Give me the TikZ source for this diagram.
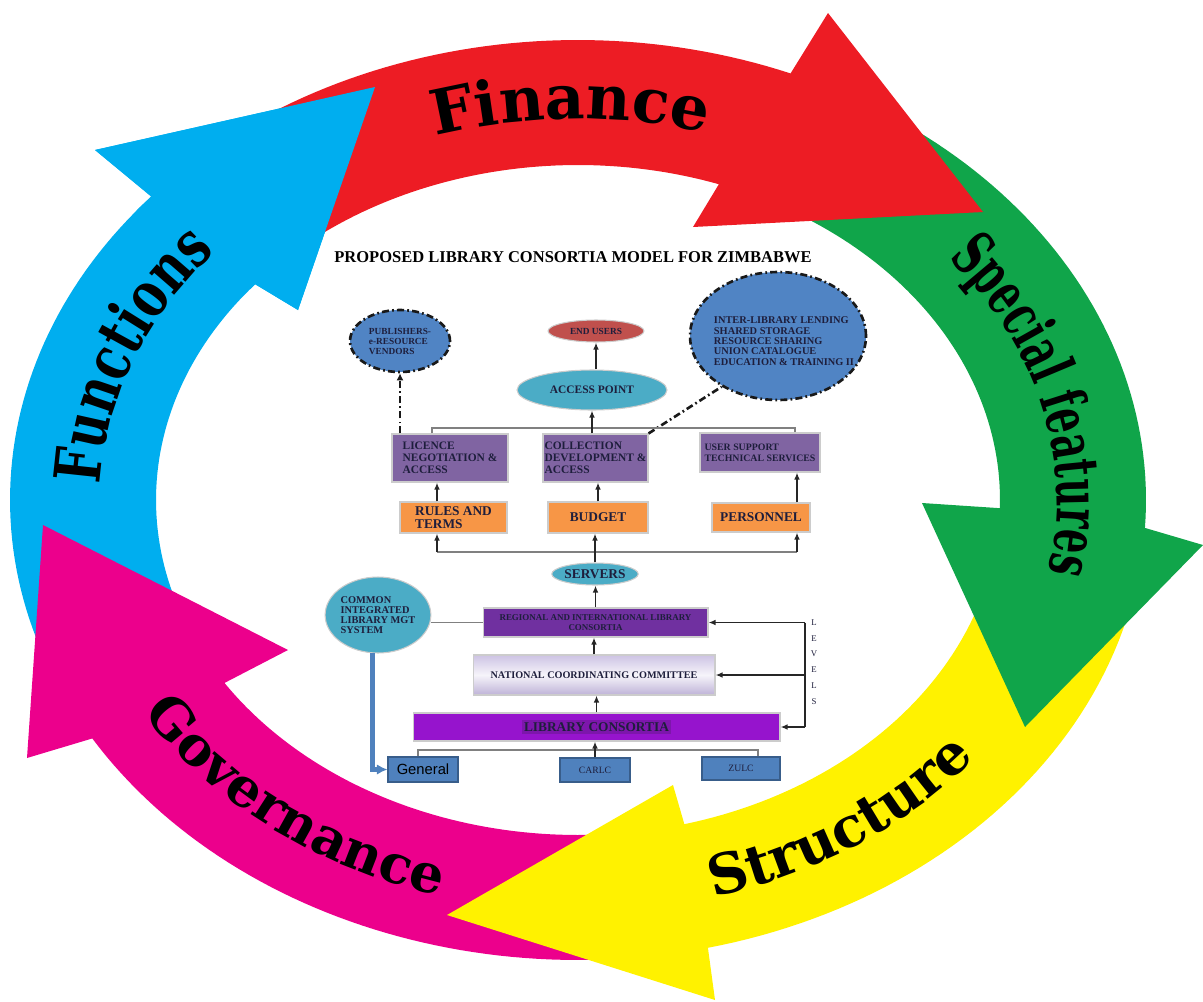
\documentclass[tikz,border=0pt]{standalone}
\usepackage{fontspec}
\setmainfont{Liberation Serif}
\newfontfamily\sansA{Liberation Sans}
\newfontfamily\waN{DejaVu Serif}
\newfontfamily\waC{DejaVu Serif}[FakeStretch=0.75]
\newfontfamily\waS{DejaVu Serif}[FakeStretch=0.62]
\usetikzlibrary{shapes.geometric,decorations.text,arrows.meta}
\definecolor{ringRed}{RGB}{237,28,36}
\definecolor{ringGreen}{RGB}{16,165,74}
\definecolor{ringYellow}{RGB}{255,242,0}
\definecolor{ringMag}{RGB}{236,0,140}
\definecolor{ringBlue}{RGB}{0,174,239}
\definecolor{boxPurple}{RGB}{128,100,162}
\definecolor{boxOrange}{RGB}{247,150,70}
\definecolor{tealE}{RGB}{75,172,198}
\definecolor{circBlue}{RGB}{80,132,196}
\definecolor{euRed}{RGB}{192,80,77}
\definecolor{regPurple}{RGB}{112,48,160}
\definecolor{lcViolet}{RGB}{150,20,205}
\definecolor{lcDark}{RGB}{125,22,172}
\definecolor{txtDark}{RGB}{30,30,60}
\definecolor{genBlue}{RGB}{79,129,189}
\definecolor{genDraw}{RGB}{56,93,138}
\definecolor{lineBlue}{RGB}{79,129,189}
\definecolor{nccTop}{RGB}{205,195,228}
\definecolor{nccMid}{RGB}{246,244,250}
\definecolor{nccBot}{RGB}{190,178,215}
\begin{document}
\begin{tikzpicture}[x=0.02cm,y=-0.02cm,
  conn/.style={draw=black!50,line width=0.7pt},
  arr/.style={draw=black!85,line width=0.8pt,-{Latex[length=4pt,width=3.2pt]}},
  ddash/.style={draw=black!90,line width=1.5pt,dash pattern=on 4pt off 1.8pt on 1pt off 1.8pt},
  ebase/.style={ellipse,inner sep=0pt,text=txtDark,draw=black!20,line width=0.6pt},
  bbase/.style={rectangle,inner sep=0pt,text=txtDark,draw=black!20,line width=0.6pt}]
\useasboundingbox (0,0) rectangle (1203,1001);

% ---------------- ring of arrows ----------------
\fill[ringBlue] plot[domain=0:1,samples=50] ({578+568*cos(200-61.3*\x)},{500-460*sin(200-61.3*\x)})
  -- (95,150) -- (375,87) -- (298,310)
  -- plot[domain=0:1,samples=50] ({578+422*cos(139.9+60.1*\x)},{500-335*sin(139.9+60.1*\x)}) -- cycle;
\fill[ringMag] plot[domain=0:1,samples=50] ({578+568*cos(275-63.8*\x)},{500-460*sin(275-63.8*\x)})
  -- (27,758) -- (43,525) -- (288,650)
  -- plot[domain=0:1,samples=50] ({578+422*cos(213.1+61.9*\x)},{500-335*sin(213.1+61.9*\x)}) -- cycle;
\fill[ringYellow] plot[domain=0:1,samples=50] ({578+568*cos(-8-68.8*\x)},{500-460*sin(-8-68.8*\x)})
  -- (715,1000) -- (447,915) -- (673,785)
  -- plot[domain=0:1,samples=50] ({578+422*cos(-75.4+67.4*\x)},{500-335*sin(-75.4+67.4*\x)}) -- cycle;
\fill[ringGreen] plot[domain=0:1,samples=50] ({578+568*cos(60-63.5*\x)},{500-460*sin(60-63.5*\x)})
  -- (1203,545) -- (1025,727) -- (922,503)
  -- plot[domain=0:1,samples=50] ({578+422*cos(-1.4+61.4*\x)},{500-335*sin(-1.4+61.4*\x)}) -- cycle;
\fill[ringRed] plot[domain=0:1,samples=50] ({578+568*cos(132-64*\x)},{500-460*sin(132-64*\x)})
  -- (828,13) -- (983,212) -- (693,227)
  -- plot[domain=0:1,samples=50] ({578+422*cos(70.5+61.5*\x)},{500-335*sin(70.5+61.5*\x)}) -- cycle;
% blue head again, over the tail of the red arrow
\fill[ringBlue] ({578+568*cos(141)},{500-460*sin(141)}) -- ({578+568*cos(138.7)},{500-460*sin(138.7)})
  -- (95,150) -- (375,87) -- (298,310)
  -- ({578+422*cos(139.9)},{500-335*sin(139.9)}) -- ({578+422*cos(141)},{500-335*sin(141)}) -- cycle;

% ring labels (arcs given in canvas units)
\path[decorate,decoration={text along path,text align=center,
  text={|\waN\bfseries\fontsize{35}{35}\selectfont|Finance}}]
  ({578+479*cos(131)},{500-381*sin(131)}) arc[start angle=131,end angle=51,x radius=9.58cm,y radius=7.62cm];
\path[decorate,decoration={text along path,text align=center,
  text={|\waS\bfseries\fontsize{35}{35}\selectfont|Special features}}]
  ({578+479*cos(58.2)},{500-381*sin(58.2)}) arc[start angle=58.2,end angle=-31.8,x radius=9.58cm,y radius=7.62cm];
\path[decorate,decoration={text along path,text align=center,
  text={|\waN\bfseries\fontsize{31.7}{32}\selectfont|Structure}}]
  ({578+510*cos(-95)},{500-412*sin(-95)}) arc[start angle=-95,end angle=-15,x radius=10.2cm,y radius=8.24cm];
\path[decorate,decoration={text along path,text align=center,
  text={|\waN\bfseries\fontsize{30.6}{31}\selectfont|Governance}}]
  ({578+509*cos(185.6)},{500-411*sin(185.6)}) arc[start angle=185.6,end angle=275.6,x radius=10.18cm,y radius=8.22cm];
\path[decorate,decoration={text along path,text align=center,
  text={|\waC\bfseries\fontsize{36.3}{36}\selectfont|Functions}}]
  ({578+478*cos(205.3)},{500-380*sin(205.3)}) arc[start angle=205.3,end angle=115.3,x radius=9.56cm,y radius=7.6cm];

% ---------------- central model ----------------
\node[font=\bfseries\fontsize{9.4}{9.4}\selectfont] (title) at (573,257) {PROPOSED LIBRARY CONSORTIA MODEL FOR ZIMBABWE};

\node[ebase,fill=circBlue,ddash,minimum width=2cm,minimum height=1.24cm,align=left,
  font=\bfseries\fontsize{5.3}{5.7}\selectfont] (pub) at (400,341) {PUBLISHERS-\\e-RESOURCE\\VENDORS};
\node[ebase,fill=euRed,minimum width=1.92cm,minimum height=0.44cm,
  font=\bfseries\fontsize{5.3}{5.3}\selectfont] (eu) at (596,331) {END USERS};
\node[ebase,fill=circBlue,ddash,minimum width=3.52cm,minimum height=2.56cm] (bigc) at (778,336) {};
\node[align=left,inner sep=0pt,text=txtDark,font=\bfseries\fontsize{5.9}{5.9}\selectfont] (bigcT) at (784,341)
  {INTER-LIBRARY LENDING\\SHARED STORAGE\\RESOURCE SHARING\\UNION CATALOGUE\\EDUCATION \& TRAINING II};
\node[ebase,fill=tealE,minimum width=3cm,minimum height=0.8cm,
  font=\bfseries\fontsize{6.5}{6.5}\selectfont] (ap) at (592,390) {ACCESS POINT};

\node[bbase,fill=boxPurple,minimum width=2.32cm,minimum height=0.96cm,align=left,
  font=\bfseries\fontsize{6.5}{6.9}\selectfont] (lic) at (450,458) {LICENCE\\NEGOTIATION \&\\ACCESS};
\node[bbase,fill=boxPurple,minimum width=2.1cm,minimum height=0.96cm,align=left,
  font=\bfseries\fontsize{6.5}{6.9}\selectfont] (coll) at (595.5,458) {COLLECTION\\DEVELOPMENT \&\\ACCESS};
\node[bbase,fill=boxPurple,minimum width=2.4cm,minimum height=0.78cm,align=left,
  font=\bfseries\fontsize{5.6}{6.3}\selectfont] (us) at (760,452.5) {USER SUPPORT\\TECHNICAL SERVICES};

\node[bbase,fill=boxOrange,minimum width=2.14cm,minimum height=0.62cm,align=left,
  font=\bfseries\fontsize{7.6}{7.5}\selectfont] (rules) at (453.5,517.5) {RULES AND\\TERMS};
\node[bbase,fill=boxOrange,minimum width=2cm,minimum height=0.62cm,
  font=\bfseries\fontsize{7.6}{7.6}\selectfont] (bud) at (598,517.5) {BUDGET};
\node[bbase,fill=boxOrange,minimum width=1.96cm,minimum height=0.58cm,
  font=\bfseries\fontsize{7.6}{7.6}\selectfont] (pers) at (761,517.5) {PERSONNEL};

\node[ebase,fill=tealE,minimum width=1.72cm,minimum height=0.44cm,
  font=\bfseries\fontsize{7.6}{7.6}\selectfont] (srv) at (595,574) {SERVERS};
\node[ebase,fill=tealE,minimum width=2cm,minimum height=1.52cm,align=left,
  font=\bfseries\fontsize{5.9}{5.7}\selectfont] (cilms) at (378,615) {COMMON\\INTEGRATED\\LIBRARY MGT\\SYSTEM};

\node[bbase,fill=regPurple,minimum width=4.5cm,minimum height=0.58cm,align=center,
  font=\bfseries\fontsize{5.1}{5.3}\selectfont] (reg) at (595.5,622.5) {REGIONAL AND INTERNATIONAL LIBRARY\\CONSORTIA};
\node[bbase,top color=nccTop,bottom color=nccBot,middle color=nccMid,minimum width=4.84cm,minimum height=0.8cm,
  font=\bfseries\fontsize{5.8}{5.8}\selectfont] (ncc) at (594,675) {NATIONAL COORDINATING COMMITTEE};
\node[bbase,fill=lcViolet,minimum width=7.34cm,minimum height=0.56cm,
  font=\bfseries\fontsize{7.6}{7.6}\selectfont] (lc) at (596.5,727) {\setlength{\fboxsep}{1.2pt}\colorbox{lcDark}{LIBRARY CONSORTIA}};

\node[bbase,fill=genBlue,draw=genDraw,minimum width=1.4cm,minimum height=0.5cm,text=black,
  font=\sansA\fontsize{8.4}{8.4}\selectfont] (gen) at (423,769.5) {General};
\node[bbase,fill=genBlue,draw=genDraw,minimum width=1.4cm,minimum height=0.48cm,
  font=\fontsize{5.5}{5.5}\selectfont] (carlc) at (595,770) {CARLC};
\node[bbase,fill=genBlue,draw=genDraw,minimum width=1.56cm,minimum height=0.46cm,
  font=\fontsize{5.5}{5.5}\selectfont] (zulc) at (741,768.5) {ZULC};

\node[inner sep=0pt,align=center,text=txtDark,font=\fontsize{5}{9}\selectfont] (lvl) at (814,662) {L\\E\\V\\E\\L\\S};

% ---------------- connectors ----------------
\coordinate (tbL) at (432,428);
\coordinate (tbR) at (795,428);
\coordinate (cL) at (437,552);
\coordinate (cR) at (797,552);
\coordinate (lvx) at (805,620);
\coordinate (b2L) at (418,750);
\coordinate (b2R) at (758,750);

\draw[ddash,-{Latex[length=4pt,width=4pt]}] (pub.south |- lic.north) -- (pub.south);
\draw[ddash] (coll.north east) -- (bigc.222);
\draw[arr] (eu.south |- ap.north) -- (eu.south);
\draw[conn] (lic.north -| tbL) -- (tbL) -- (tbR) -- (us.north -| tbR);
\draw[arr] (ap.south |- coll.north) -- (ap.south);
\draw[arr] (rules.north -| cL) -- (lic.south -| cL);
\draw[arr] (bud.north) -- (bud.north |- coll.south);
\draw[arr] (pers.north -| cR) -- (us.south -| cR);
\draw[conn] (cL) -- (cR);
\draw[arr] (cL) -- (rules.south -| cL);
\draw[arr] (cR) -- (pers.south -| cR);
\draw[arr] (srv.north) -- (srv.north |- bud.south);
\draw[arr] (reg.north) -- (reg.north |- srv.south);
\draw[conn] (cilms.east |- reg.west) -- (reg.west);
\draw[arr] (ncc.north) -- (ncc.north |- reg.south);
\draw[arr] (lc.north) -- (lc.north |- ncc.south);
\draw[draw=black!85,line width=0.8pt] (reg.east -| lvx) -- (lc.east -| lvx);
\draw[arr] (reg.east -| lvx) -- (reg.east);
\draw[arr] (ncc.east -| lvx) -- (ncc.east);
\draw[arr] (lc.east -| lvx) -- (lc.east);
\draw[conn] (gen.north -| b2L) -- (b2L) -- (b2R) -- (zulc.north -| b2R);
\draw[arr] (carlc.north) -- (carlc.north |- lc.south);
\draw[line width=2.6pt,draw=lineBlue,-{Latex[length=6pt,width=6pt]}] (cilms.262) |- (gen.west);
\end{tikzpicture}
\end{document}
